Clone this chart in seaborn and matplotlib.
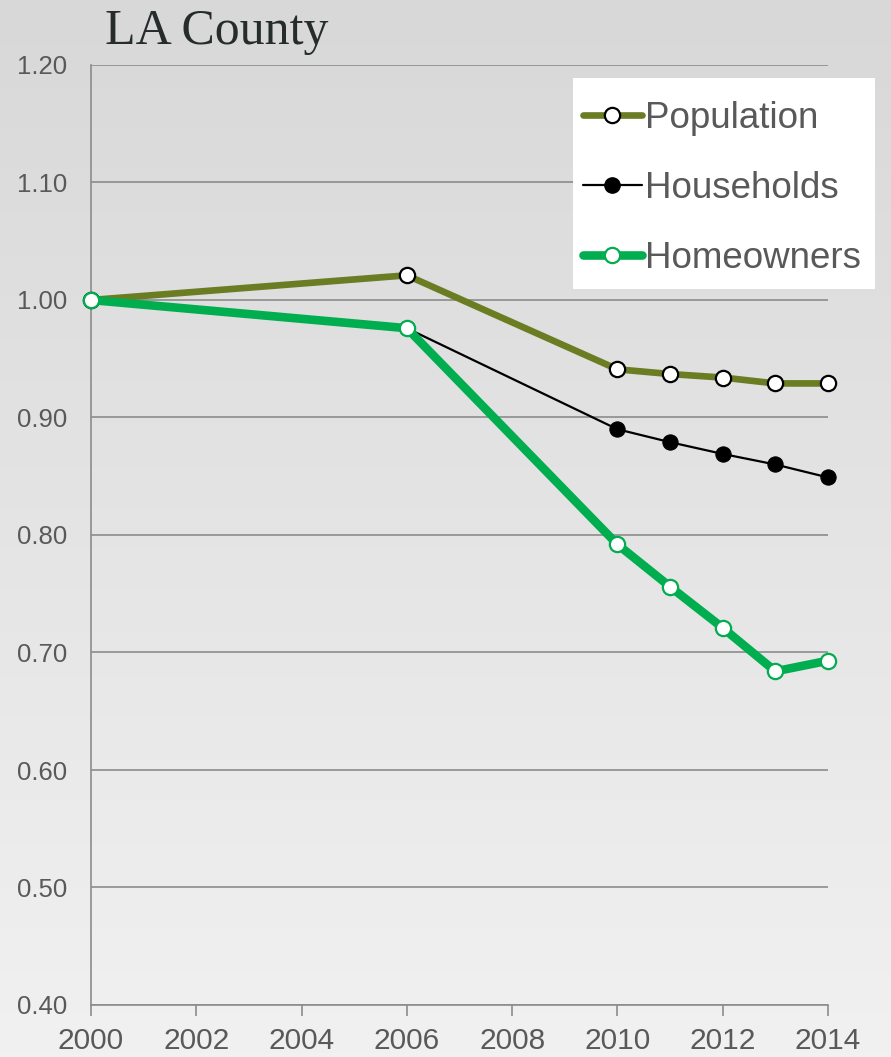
import numpy as np
import pandas as pd
import matplotlib
matplotlib.use("Agg")
import matplotlib.pyplot as plt
import seaborn as sns
from matplotlib.lines import Line2D
from matplotlib.patches import Rectangle

# data
years = [2000, 2006, 2010, 2011, 2012, 2013, 2014]
population = [1.000, 1.021, 0.941, 0.937, 0.934, 0.929, 0.929]
households = [1.000, 0.976, 0.890, 0.879, 0.869, 0.860, 0.849]
homeowners = [1.000, 0.976, 0.792, 0.756, 0.721, 0.684, 0.693]
series_names = ["Population", "Households", "Homeowners"]
x_ticks = [2000, 2002, 2004, 2006, 2008, 2010, 2012, 2014]
y_ticks = [0.40, 0.50, 0.60, 0.70, 0.80, 0.90, 1.00, 1.10, 1.20]

olive = "#6b7d23"
green = "#00ad4f"
tick_col = "#595959"

sns.set_theme(style="white")
plt.rcParams["font.family"] = ["Liberation Sans", "DejaVu Sans"]

W, H = 891, 1057
fig = plt.figure(figsize=(W / 100, H / 100), dpi=100)

# grey gradient background
bg = fig.add_axes([0, 0, 1, 1], zorder=-10)
grad = np.linspace(0, 1, 256).reshape(-1, 1)
bg.imshow(grad, aspect="auto", cmap=matplotlib.colors.LinearSegmentedColormap.from_list(
    "g", ["#d8d8d8", "#f1f1f1"]), extent=[0, 1, 0, 1], origin="upper")
bg.axis("off")

ax = fig.add_axes([91 / W, 52 / H, 737 / W, 940 / H])
ax.patch.set_alpha(0)

df = pd.DataFrame({"year": years, "Population": population,
                   "Households": households, "Homeowners": homeowners})

sns.lineplot(data=df, x="year", y="Population", ax=ax, color=olive, lw=4.8,
             marker="o", markersize=11, markerfacecolor="white",
             markeredgecolor="black", markeredgewidth=1.6, zorder=3, clip_on=False)
sns.lineplot(data=df, x="year", y="Households", ax=ax, color="black", lw=1.6,
             marker="o", markersize=11, markerfacecolor="black",
             markeredgecolor="black", zorder=4, clip_on=False)
sns.lineplot(data=df, x="year", y="Homeowners", ax=ax, color=green, lw=6.2,
             marker="o", markersize=11, markerfacecolor="white",
             markeredgecolor=green, markeredgewidth=1.6, zorder=5, clip_on=False)

ax.set_xlim(2000, 2014)
ax.set_ylim(0.40, 1.20)
ax.set_xticks(x_ticks)
ax.set_yticks(y_ticks)
ax.set_yticklabels([f"{v:.2f}" for v in y_ticks])
ax.set_xlabel("")
ax.set_ylabel("")
ax.grid(axis="y", color="#8c8c8c", lw=1.2)
ax.set_axisbelow(True)
for s in ["top", "right"]:
    ax.spines[s].set_visible(False)
for s in ["left", "bottom"]:
    ax.spines[s].set_color("#8c8c8c")
    ax.spines[s].set_linewidth(1.2)
ax.tick_params(axis="x", length=8, width=1.2, color="#8c8c8c", direction="out",
               labelsize=21.5, labelcolor=tick_col, pad=8, bottom=True)
ax.tick_params(axis="y", length=0, labelsize=18.5, labelcolor=tick_col, pad=17)

# white legend box
fig.add_artist(Rectangle((573 / W, 1 - 289 / H), 302 / W, 211 / H,
                         transform=fig.transFigure, facecolor="white",
                         edgecolor="none", zorder=2))

handles = [
    Line2D([], [], color=olive, lw=4.8, marker="o", markersize=11,
           markerfacecolor="white", markeredgecolor="black", markeredgewidth=1.6),
    Line2D([], [], color="black", lw=1.6, marker="o", markersize=11,
           markerfacecolor="black"),
    Line2D([], [], color=green, lw=6.2, marker="o", markersize=11,
           markerfacecolor="white", markeredgecolor=green, markeredgewidth=1.6),
]
leg = fig.legend(handles, series_names, loc="upper left",
                 bbox_to_anchor=(583 / W, 1 - 101 / H), fontsize=26.5,
                 frameon=False, handlelength=1.6, handletextpad=0.08,
                 labelspacing=0.95, borderpad=0, borderaxespad=0)
leg.set_zorder(5)
for t in leg.get_texts():
    t.set_color(tick_col)

fig.text(105 / W, 1 - 44 / H, "LA County", fontsize=36,
         family=["Liberation Serif", "DejaVu Serif"], color="#262c2c",
         va="baseline", ha="left")

fig.savefig("out.png", dpi=100)
